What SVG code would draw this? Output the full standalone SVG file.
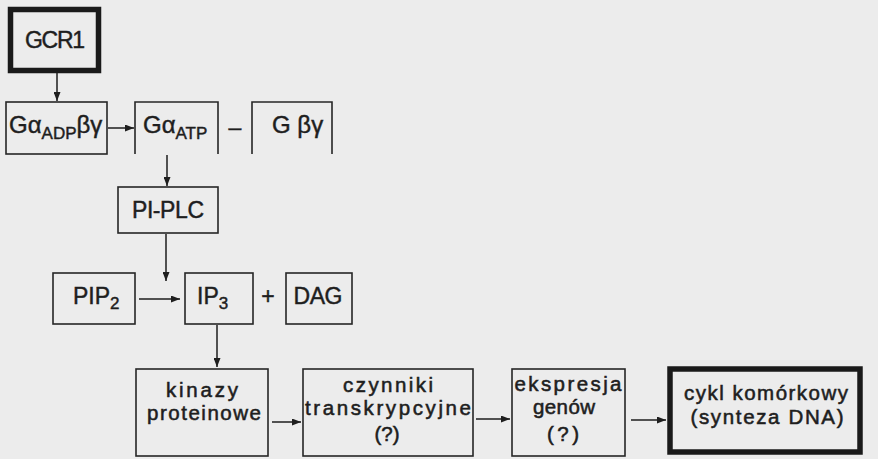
<svg xmlns="http://www.w3.org/2000/svg" width="878" height="459" viewBox="0 0 878 459">
<defs>
<marker id="ah" markerWidth="9" markerHeight="7" refX="9" refY="3.5" orient="auto" markerUnits="userSpaceOnUse">
<path d="M0,0 L9,3.5 L0,7 z" fill="#1e1e1e"/>
</marker>
<style>
.bx{fill:none;stroke:#262626;stroke-width:1.6}
.thick{fill:none;stroke:#1a1a1a;stroke-width:5.5}
.t{font-family:"Liberation Sans",Arial,sans-serif;font-size:23px;fill:#1e1e1e;stroke:#1e1e1e;stroke-width:0.45;text-anchor:middle}
.m{font-size:20.5px;stroke-width:0.55}
.s{text-anchor:start}
.sub{font-size:17px}
.c{fill:none;stroke:#1e1e1e;stroke-width:1.5;marker-end:url(#ah)}
</style>
</defs>
<rect width="878" height="459" fill="#ececec"/>

<g id="gcr1">
<rect class="thick" x="10.5" y="9.5" width="88" height="61"/>
<text class="t" x="55" y="48" textLength="60">GCR1</text>
</g>

<g id="g_adp">
<rect class="bx" x="6" y="102" width="101" height="52"/>
<text class="t s" x="9" y="133" style="font-size:24px">Gα<tspan class="sub" dy="6">ADP</tspan><tspan dy="-6">βγ</tspan></text>
</g>

<g id="g_atp">
<path class="bx" d="M135,154 V102 H218 V154"/>
<text class="t s" x="143" y="133" style="font-size:24px">Gα<tspan class="sub" dy="6">ATP</tspan></text>
</g>

<text class="t" x="235" y="135">–</text>

<g id="g_bg">
<path class="bx" d="M252,154 V102 H332 V154"/>
<text class="t s" x="272" y="133" style="font-size:24px">G βγ</text>
</g>

<g id="pi_plc">
<rect class="bx" x="118" y="187" width="100" height="46"/>
<text class="t" x="168" y="218" textLength="72">PI-PLC</text>
</g>

<g id="pip2">
<rect class="bx" x="53" y="273" width="82" height="51"/>
<text class="t s" x="73" y="304">PIP<tspan class="sub" dy="5">2</tspan></text>
</g>

<g id="ip3">
<rect class="bx" x="185" y="273" width="68" height="51"/>
<text class="t s" x="197" y="304">IP<tspan class="sub" dy="5">3</tspan></text>
</g>

<text class="t" x="268" y="304">+</text>

<g id="dag">
<rect class="bx" x="286" y="273" width="66" height="51"/>
<text class="t" x="318" y="304" textLength="49">DAG</text>
</g>

<g id="kinazy">
<rect class="bx" x="136" y="369" width="132" height="87"/>
<text class="t m" x="202" y="397" textLength="72">kinazy</text>
<text class="t m" x="204" y="420" textLength="114">proteinowe</text>
</g>

<g id="czynniki">
<rect class="bx" x="303" y="369" width="170" height="87"/>
<text class="t m" x="388" y="392" textLength="90">czynniki</text>
<text class="t m" x="388" y="415" textLength="166">transkrypcyjne</text>
<text class="t m" x="387" y="441">(?)</text>
</g>

<g id="ekspresja">
<rect class="bx" x="512" y="369" width="113" height="87"/>
<text class="t m" x="568" y="391" textLength="107">ekspresja</text>
<text class="t m" x="564" y="414" textLength="62">genów</text>
<text class="t m" x="563" y="441" textLength="32">(?)</text>
</g>

<g id="cykl">
<rect class="thick" x="670" y="369" width="190" height="83"/>
<text class="t m" x="766" y="400" textLength="164">cykl komórkowy</text>
<text class="t m" x="767" y="424" textLength="153">(synteza DNA)</text>
</g>

<g id="connectors">
<path class="c" d="M57,73 V101"/>
<path class="c" d="M108,128 H134"/>
<path class="c" d="M167,155 V186"/>
<path class="c" d="M166,234 V281"/>
<path class="c" d="M139,299 H180"/>
<path class="c" d="M217,325 V367"/>
<path class="c" d="M272,422 H301"/>
<path class="c" d="M476,419 H510"/>
<path class="c" d="M631,420 H666"/>
</g>
</svg>
